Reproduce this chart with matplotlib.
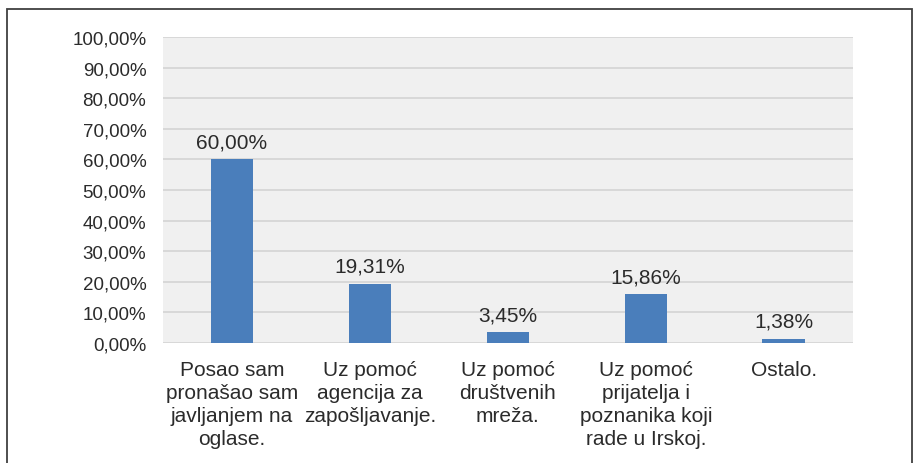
import numpy as np
import matplotlib.pyplot as plt
from matplotlib.patches import Rectangle

# Chart data
categories = ['Posao sam\npronašao sam\njavljanjem na\noglase.',
              'Uz pomoć\nagencija za\nzapošljavanje.',
              'Uz pomoć\ndruštvenih\nmreža.',
              'Uz pomoć\nprijatelja i\npoznanika koji\nrade u Irskoj.',
              'Ostalo.']
values = [60.00, 19.31, 3.45, 15.86, 1.38]
yticks = list(range(0, 101, 10))

plt.rcParams['font.family'] = ['Liberation Sans', 'DejaVu Sans']
txt_color = '#2b2b2b'

def fmt(v):
    return '{:.2f}%'.format(v).replace('.', ',')

fig = plt.figure(figsize=(9.21, 4.64), dpi=100)
ax = fig.add_axes([0.177, 0.2586, 0.749, 0.6594])
ax.set_facecolor('#f0f0f0')

x = np.arange(len(categories))
bars = ax.bar(x, values, width=0.31, color='#4a7ebb', zorder=3)

for b, v in zip(bars, values):
    ax.annotate(fmt(v), (b.get_x() + b.get_width() / 2, v),
                xytext=(0, 6), textcoords='offset points',
                ha='center', va='bottom', fontsize=15, color=txt_color)

ax.set_xlim(-0.5, len(categories) - 0.5)
ax.set_ylim(0, 100)
ax.set_yticks(yticks)
ax.set_yticklabels([fmt(t) for t in yticks], fontsize=13.5, color=txt_color)
ax.set_xticks(x)
ax.set_xticklabels(categories, fontsize=15, color=txt_color, linespacing=1.27)
ax.tick_params(axis='both', length=0)
ax.tick_params(axis='y', pad=12)
ax.tick_params(axis='x', pad=12)
ax.yaxis.grid(True, color='#d4d4d4', linewidth=1.2, zorder=0)
ax.set_axisbelow(True)
for s in ax.spines.values():
    s.set_visible(False)

# outer frame of the figure (bottom edge is cut off in the original)
fig.patches.append(Rectangle((7 / 921, -0.05), 905 / 921, 1.05 - 10 / 464,
                             transform=fig.transFigure, fill=False,
                             edgecolor='#404040', linewidth=1.3, clip_on=False))

fig.savefig('out.png', dpi=100)
